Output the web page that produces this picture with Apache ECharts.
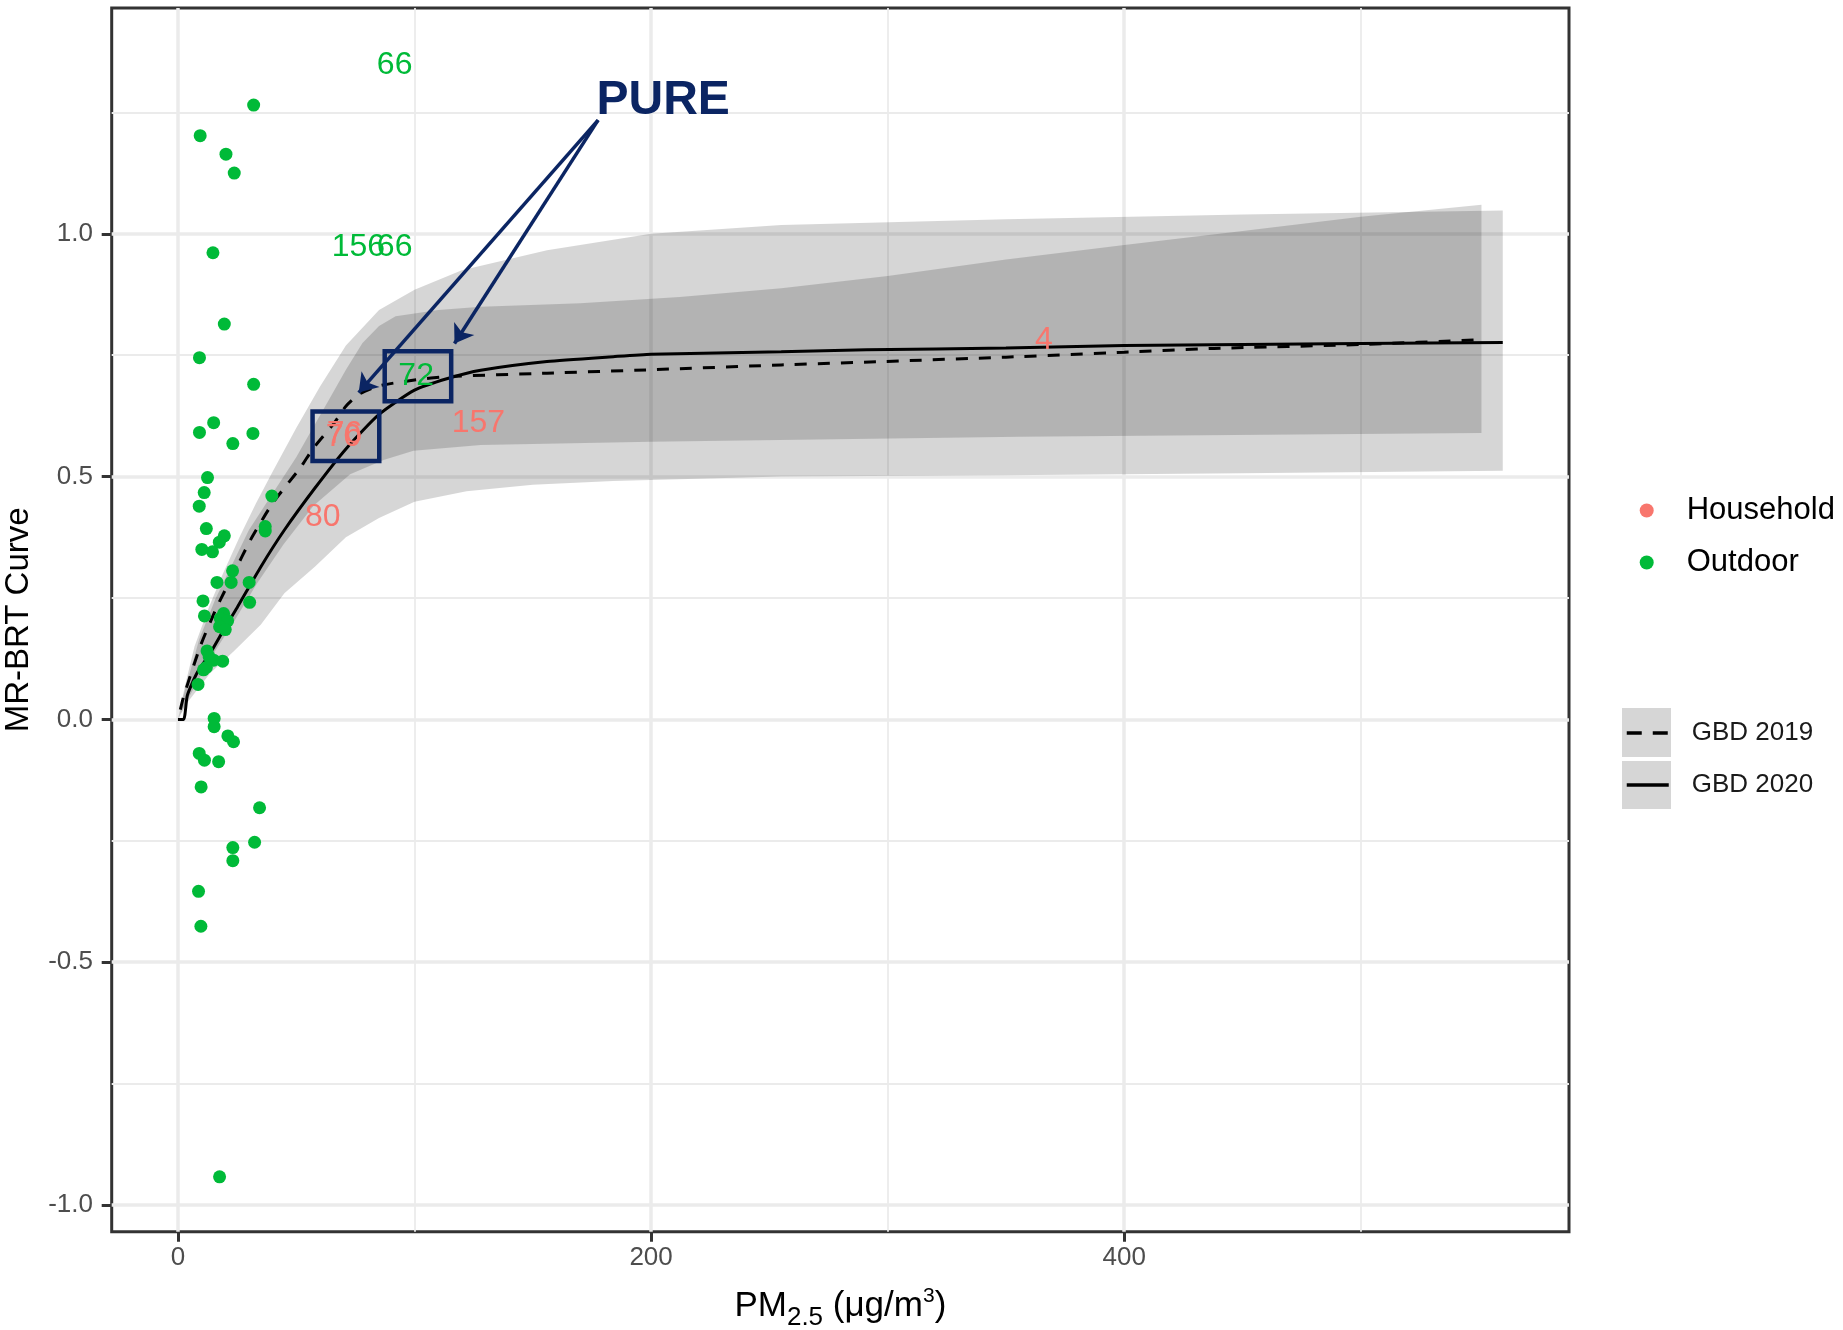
<!DOCTYPE html>
<html>
<head>
<meta charset="utf-8">
<script src="https://cdn.jsdelivr.net/npm/echarts@6/dist/echarts.min.js"></script>
<style>html,body{margin:0;padding:0;background:#fff}#c{width:1843px;height:1330px}</style>
</head>
<body>
<div id="c"></div>
<script>
const FONT = '"Liberation Sans", Arial, Helvetica, sans-serif';

// ---- axes ----
const xMin = -28, xMax = 588;
const yMin = -1.055, yMax = 1.465;
const xTicks = [0, 200, 400];
const xMinorGrid = [100, 300, 500];
const yTicks = [-1, -0.5, 0, 0.5, 1];
const yMinorGrid = [-0.75, -0.25, 0.25, 0.75, 1.25];

// ---- GBD 2020 (solid) ----
const gbd2020X = [0, 2.4, 4, 8, 13.6, 20, 25, 35, 45, 58, 71, 85, 100, 114, 128, 156, 184, 200, 255, 291, 350, 400, 500, 560];
const gbd2020Y = [0, 0, 0.05, 0.095, 0.136, 0.19, 0.23, 0.314, 0.39, 0.477, 0.557, 0.628, 0.678, 0.702, 0.719, 0.737, 0.747, 0.752, 0.757, 0.761, 0.765, 0.770, 0.774, 0.776];
const upper2020X = [0, 3, 7, 13, 19, 26, 33, 40, 50, 60, 71, 85, 100, 120, 156, 200, 255, 350, 450, 560];
const upper2020Y = [0, 0.07, 0.15, 0.23, 0.30, 0.375, 0.445, 0.51, 0.60, 0.685, 0.77, 0.843, 0.885, 0.925, 0.966, 1.0, 1.018, 1.03, 1.04, 1.048];
const lower2020X = [0, 4, 13.6, 23.5, 35, 45, 58, 71, 85, 100, 122, 150, 184, 200, 255, 350, 450, 560];
const lower2020Y = [0, 0.035, 0.095, 0.14, 0.195, 0.26, 0.315, 0.375, 0.415, 0.448, 0.47, 0.483, 0.491, 0.493, 0.5, 0.503, 0.507, 0.512];

// ---- GBD 2019 (dashed) ----
const gbd2019X = [1, 2.4, 9.4, 16.5, 23.5, 30.6, 40, 52, 57, 66, 71, 77, 85, 100, 114, 156, 200, 255, 298, 350, 400, 438, 500, 551];
const gbd2019Y = [0.02, 0.047, 0.15, 0.232, 0.30, 0.369, 0.445, 0.52, 0.557, 0.61, 0.645, 0.671, 0.687, 0.699, 0.706, 0.713, 0.72, 0.73, 0.737, 0.746, 0.756, 0.764, 0.772, 0.782];
const upper2019X = [1, 2.4, 9, 16, 23, 30, 40, 50, 57, 64, 71, 78, 85, 92, 110, 128, 170, 212, 255, 300, 350, 400, 450, 500, 551];
const upper2019Y = [0.02, 0.05, 0.165, 0.25, 0.32, 0.39, 0.465, 0.54, 0.60, 0.66, 0.72, 0.775, 0.81, 0.83, 0.843, 0.85, 0.857, 0.87, 0.888, 0.913, 0.947, 0.977, 1.006, 1.035, 1.06];
const lower2019X = [1, 4, 13.6, 23.5, 33.4, 44.6, 57.3, 72.8, 86.9, 99.6, 128, 200, 356, 551];
const lower2019Y = [0.01, 0.04, 0.125, 0.2, 0.28, 0.36, 0.44, 0.505, 0.534, 0.553, 0.565, 0.572, 0.582, 0.59];

// ---- Outdoor points ----
const outdoorX = [32, 9.4, 20.3, 23.8, 14.8, 19.6, 9.1, 32, 15.1, 9.1, 31.7, 23.2, 12.5, 11.1, 9.0, 39.7, 12, 36.9, 36.9, 19.6, 17.5, 10.1, 14.6, 23.1, 16.5, 22.5, 30.1, 10.6, 30.3, 11.2, 19.3, 17.9, 21, 17.6, 20, 12.3, 13.2, 15.1, 18.9, 12, 10.8, 8.5, 15.3, 15.3, 21.1, 23.5, 9, 11.2, 17.2, 9.8, 34.5, 32.4, 23.2, 23.2, 8.7, 9.7, 17.6];
const outdoorY = [1.265, 1.202, 1.164, 1.125, 0.961, 0.814, 0.745, 0.69, 0.611, 0.591, 0.589, 0.568, 0.498, 0.467, 0.439, 0.46, 0.393, 0.397, 0.388, 0.378, 0.365, 0.35, 0.345, 0.306, 0.282, 0.282, 0.282, 0.244, 0.241, 0.213, 0.218, 0.208, 0.203, 0.191, 0.185, 0.141, 0.129, 0.122, 0.12, 0.107, 0.102, 0.072, 0.002, -0.015, -0.034, -0.046, -0.07, -0.084, -0.087, -0.139, -0.182, -0.253, -0.264, -0.291, -0.354, -0.426, -0.942];

// ---- text labels ----
const outdoorLabelX = [91.6, 76.3, 91.6, 100.7];
const outdoorLabelY = [1.348, 0.973, 0.973, 0.706];
const outdoorLabelText = ['66', '156', '66', '72'];
const householdLabelX = [70.4, 70, 127, 61.2, 366];
const householdLabelY = [0.588, 0.582, 0.61, 0.417, 0.781];
const householdLabelText = ['76', '70', '157', '80', '4'];

// ---- PURE annotation (data coordinates) ----
const pureText = 'PURE';
const purePos = [205.1, 1.274];
const arrowStart = [177.6, 1.234];
const arrowEnds = [[76.4, 0.673], [116.9, 0.774]];
const boxes = [[[56.9, 0.634], [85.1, 0.532]], [[87.4, 0.758], [115.5, 0.655]]];

const NAVY = '#0b2563';
const zip = (xs, ys) => xs.map((x, i) => [x, ys[i]]);
const zip3 = (xs, ys, ts) => xs.map((x, i) => [x, ys[i], ts[i]]);

function ribbon(name, upX, upY, loX, loY) {
  return {
    type: 'custom', name: name, z: 2, silent: true,
    data: [[upX[0], upY[0]]],
    renderItem: function (params, api) {
      const pts = [];
      for (let i = 0; i < upX.length; i++) pts.push(api.coord([upX[i], upY[i]]));
      for (let i = loX.length - 1; i >= 0; i--) pts.push(api.coord([loX[i], loY[i]]));
      return { type: 'polygon', shape: { points: pts, smooth: 0 }, style: { fill: 'rgba(0,0,0,0.16)' } };
    }
  };
}

const labelBase = { show: true, position: 'inside', fontFamily: FONT, textBorderWidth: 0, textBorderColor: 'transparent', textShadowBlur: 0, opacity: 1 };

const gridLineData = [].concat(
  xTicks.map(v => ({ xAxis: v, lineStyle: { width: 3.5 } })),
  xMinorGrid.map(v => ({ xAxis: v, lineStyle: { width: 1.8 } })),
  yTicks.map(v => ({ yAxis: v, lineStyle: { width: 3.5 } })),
  yMinorGrid.map(v => ({ yAxis: v, lineStyle: { width: 1.8 } }))
);

const chart = echarts.init(document.getElementById('c'), null, { renderer: 'canvas' });
chart.setOption({
  animation: false,
  backgroundColor: '#fff',
  textStyle: { fontFamily: FONT },
  grid: {
    left: 111.7, right: 274, top: 8, bottom: 98.3,
    show: true, borderColor: '#333', borderWidth: 3, backgroundColor: 'transparent',
    outerBoundsMode: 'none', containLabel: false
  },
  xAxis: {
    type: 'value', min: xMin, max: xMax, position: 'bottom',
    axisLine: { show: false, onZero: false },
    splitLine: { show: false },
    axisTick: { show: true, customValues: xTicks, length: 10, lineStyle: { color: '#333', width: 3 } },
    axisLabel: { customValues: xTicks, margin: 13, fontSize: 26, color: '#4d4d4d', fontFamily: FONT },
    name: '{m|PM}{s|2.5}{m| (μg/m}{p|3}{m|)}',
    nameLocation: 'middle', nameGap: 51,
    nameTextStyle: {
      fontFamily: FONT,
      rich: {
        m: { fontSize: 35, color: '#000', fontFamily: FONT },
        s: { fontSize: 26, color: '#000', fontFamily: FONT, padding: [22, 0, 0, 0] },
        p: { fontSize: 21, color: '#000', fontFamily: FONT, padding: [0, 0, 20, 0] }
      }
    }
  },
  yAxis: {
    type: 'value', min: yMin, max: yMax, position: 'left',
    axisLine: { show: false, onZero: false },
    splitLine: { show: false },
    axisTick: { show: true, customValues: yTicks, length: 10, lineStyle: { color: '#333', width: 3 } },
    axisLabel: { customValues: yTicks, margin: 18.7, fontSize: 26, color: '#4d4d4d', fontFamily: FONT,
      formatter: v => Number(v).toFixed(1) },
    name: 'MR-BRT Curve', nameLocation: 'middle', nameGap: 76, nameRotate: 90,
    nameTextStyle: { fontSize: 33, color: '#000', fontFamily: FONT }
  },
  legend: [
    {
      data: ['Household', 'Outdoor'], orient: 'vertical', left: 1634.7, top: 488.5,
      itemWidth: 70, itemHeight: 14, itemGap: 18, icon: 'circle', selectedMode: false,
      itemStyle: { opacity: 1 },
      textStyle: { fontSize: 31, color: '#000', fontFamily: FONT, lineHeight: 34 }
    },
    {
      data: [{ name: 'GBD 2019', lineStyle: { type: [15, 11] } }, { name: 'GBD 2020' }],
      orient: 'vertical', left: 1620, top: 708.8,
      itemWidth: 42, itemHeight: 48, itemGap: 13.6, selectedMode: false,
      itemStyle: { opacity: 0 },
      lineStyle: { width: 3.5, color: '#000' },
      textStyle: { fontSize: 26, color: '#1a1a1a', fontFamily: FONT, padding: [0, 0, 0, 18] }
    }
  ],
  graphic: [
    { type: 'rect', shape: { x: 1622, y: 708, width: 49, height: 49 }, style: { fill: '#d6d6d6' }, z: 0, silent: true },
    { type: 'rect', shape: { x: 1622, y: 761, width: 49, height: 48 }, style: { fill: '#d6d6d6' }, z: 0, silent: true }
  ],
  series: [
    {
      type: 'line', name: '__grid', data: [[0, 0]], showSymbol: false, symbol: 'none',
      lineStyle: { opacity: 0 }, silent: true, z: 1,
      markLine: {
        silent: true, z: 1, symbol: ['none', 'none'], label: { show: false },
        lineStyle: { color: '#ebebeb', type: 'solid' },
        emphasis: { disabled: true },
        data: gridLineData
      }
    },
    ribbon('GBD 2020 band', upper2020X, upper2020Y, lower2020X, lower2020Y),
    ribbon('GBD 2019 band', upper2019X, upper2019Y, lower2019X, lower2019Y),
    {
      type: 'line', name: 'GBD 2020', data: zip(gbd2020X, gbd2020Y), z: 3,
      symbol: 'none', showSymbol: false, smooth: 0.2,
      itemStyle: { color: '#000' },
      lineStyle: { color: '#000', width: 3, type: 'solid' }
    },
    {
      type: 'line', name: 'GBD 2019', data: zip(gbd2019X, gbd2019Y), z: 3,
      symbol: 'none', showSymbol: false, smooth: 0.2,
      itemStyle: { color: '#000' },
      lineStyle: { color: '#000', width: 3, type: [12, 11] }
    },
    {
      type: 'scatter', name: 'Outdoor', data: zip(outdoorX, outdoorY), z: 4,
      symbol: 'circle', symbolSize: 13, itemStyle: { color: '#00BA38', opacity: 1 },
      emphasis: { disabled: true }
    },
    {
      type: 'scatter', name: 'Household', data: zip3(householdLabelX, householdLabelY, householdLabelText), z: 5,
      symbol: 'circle', symbolSize: 0, itemStyle: { color: '#F8766D', opacity: 1 },
      emphasis: { disabled: true },
      label: Object.assign({}, labelBase, { formatter: p => p.data[2], fontSize: 32, color: '#F8766D' })
    },
    {
      type: 'scatter', name: 'Outdoor labels', data: zip3(outdoorLabelX, outdoorLabelY, outdoorLabelText), z: 5,
      symbol: 'circle', symbolSize: 0, itemStyle: { color: '#00BA38', opacity: 1 },
      emphasis: { disabled: true },
      label: Object.assign({}, labelBase, { formatter: p => p.data[2], fontSize: 32, color: '#00BA38' })
    },
    {
      type: 'scatter', name: 'PURE', data: [[purePos[0], purePos[1], pureText]], z: 6,
      symbol: 'circle', symbolSize: 0, itemStyle: { color: NAVY, opacity: 1 }, silent: true,
      emphasis: { disabled: true },
      label: Object.assign({}, labelBase, { formatter: p => p.data[2], fontSize: 48, fontWeight: 'bold', color: NAVY }),
      markLine: {
        silent: true, z: 7, symbol: ['none', 'arrow'], symbolSize: 18, label: { show: false },
        lineStyle: { color: NAVY, width: 3.5, type: 'solid' },
        emphasis: { disabled: true },
        data: arrowEnds.map(e => [{ coord: arrowStart }, { coord: e }])
      },
      markArea: {
        silent: true, z: 7,
        itemStyle: { color: 'rgba(0,0,0,0)', borderColor: NAVY, borderWidth: 4.5 },
        emphasis: { disabled: true },
        label: { show: false },
        data: boxes.map(b => [{ coord: b[0] }, { coord: b[1] }])
      }
    }
  ]
});
</script>
</body>
</html>
